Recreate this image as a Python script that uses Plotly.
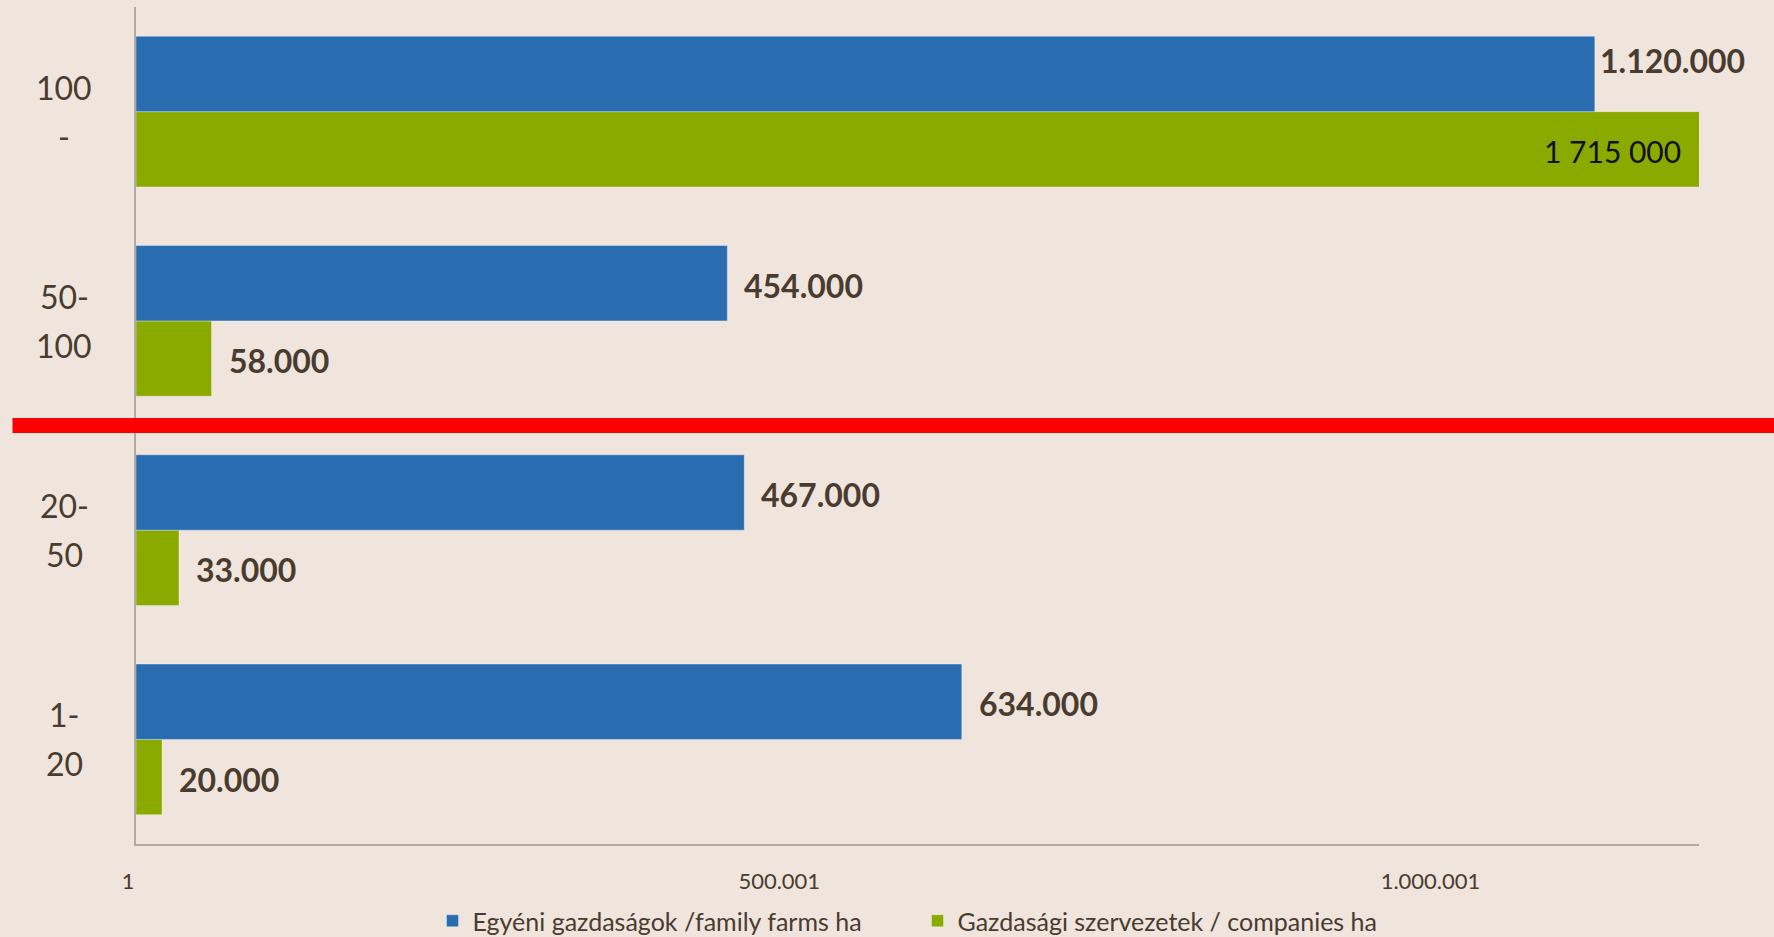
import plotly.graph_objects as go

# ---- data ----
categories = ["1-<br>20", "20-<br>50", "50-<br>100", "100<br>-"]
family_farms = [634000, 467000, 454000, 1120000]
companies = [20000, 33000, 58000, 1715000]
family_labels = ["634.000", "467.000", "454.000", "1.120.000"]
company_labels = ["20.000", "33.000", "58.000", "1 715 000"]
series_names = ["Egyéni gazdaságok /family farms ha",
                "Gazdasági szervezetek / companies ha"]
x_ticks = [1, 500001, 1000001]
x_range = [1, 1200001]

# ---- style ----
BG = "#EFE5DC"
BLUE = "#2A6CB0"
GREEN = "#8BAA00"
TXT = "#4A3B2F"
AXIS = "#B1AAA3"
FONT = "Lato, Open Sans, sans-serif"

W, H = 1774, 937
M = dict(l=136, r=75, t=7, b=93, pad=0)
BARGAP = 0.28
plot_h = H - M["t"] - M["b"]
bar_px = plot_h / len(categories) * (1 - BARGAP) / 2

fig = go.Figure()
fig.add_trace(go.Bar(
    y=categories, x=companies, name=series_names[1], orientation="h",
    marker=dict(color=GREEN, line=dict(color="rgba(255,255,255,0.35)", width=1)),
    legendrank=2,
))
fig.add_trace(go.Bar(
    y=categories, x=family_farms, name=series_names[0], orientation="h",
    marker=dict(color=BLUE, line=dict(color="rgba(255,255,255,0.35)", width=1)),
    legendrank=1,
))

annotations = []
# category labels (centered, two lines)
for cat in categories:
    lines = cat.split("<br>")
    n = len(lines)
    for i, ln in enumerate(lines):
        annotations.append(dict(
            x=-0.046, xref="paper", y=cat, yref="y", text=ln, showarrow=False,
            xanchor="center", yanchor="middle",
            yshift=(n - 1) / 2 * 49 - i * 49,
            font=dict(family=FONT, size=32, color=TXT),
        ))

# value labels
for vals, labs, sign in [(family_farms, family_labels, 1), (companies, company_labels, -1)]:
    for cat, v, lab in zip(categories, vals, labs):
        if v > x_range[1]:
            annotations.append(dict(
                x=x_range[1], y=cat, xref="x", yref="y", text=lab, showarrow=False,
                xanchor="right", yanchor="middle", xshift=-16, yshift=sign * bar_px / 2 - 2,
                font=dict(family=FONT, size=30, color="#111111"),
            ))
        else:
            near_edge = v > 0.9 * x_range[1]
            annotations.append(dict(
                x=v, y=cat, xref="x", yref="y", text="<b>" + lab + "</b>", showarrow=False,
                xanchor="left", yanchor="middle", xshift=3 if near_edge else 15,
                yshift=sign * bar_px / 2 + (13 if near_edge else -2),
                font=dict(family=FONT, size=32, color=TXT),
            ))

fig.update_layout(
    width=W, height=H, margin=M, autosize=False,
    paper_bgcolor=BG, plot_bgcolor=BG,
    barmode="group", bargap=BARGAP, bargroupgap=0,
    separators=",.",
    font=dict(family=FONT, color=TXT),
    showlegend=True,
    legend=dict(orientation="h", x=0.5, xanchor="center", xref="paper",
                y=(H - 921) / H, yanchor="middle", yref="container",
                font=dict(family=FONT, size=25, color=TXT), bgcolor="rgba(0,0,0,0)",
                entrywidth=440, entrywidthmode="pixels", itemclick=False),
    annotations=annotations,
    shapes=[dict(type="line", xref="paper", x0=-0.079, x1=1.06, yref="y", y0=1.5, y1=1.5,
                 line=dict(color="#FF0000", width=15), layer="above")],
)
fig.update_xaxes(
    range=x_range, tickvals=x_ticks, tickformat=",d", automargin=False,
    showgrid=False, zeroline=False, showline=True, linecolor=AXIS, linewidth=2,
    ticks="outside", ticklen=17, tickcolor="rgba(0,0,0,0)", ticklabelshift=-8,
    tickfont=dict(family=FONT, size=22, color=TXT),
)
fig.update_yaxes(
    showticklabels=False, showgrid=False, zeroline=False, automargin=False,
    showline=True, linecolor=AXIS, linewidth=2, range=[-0.5, 3.5],
)

fig.write_html(
    "out.html",
    config={"displayModeBar": False},
    post_script="document.body.style.margin='0';document.body.style.background='" + BG + "';",
)
